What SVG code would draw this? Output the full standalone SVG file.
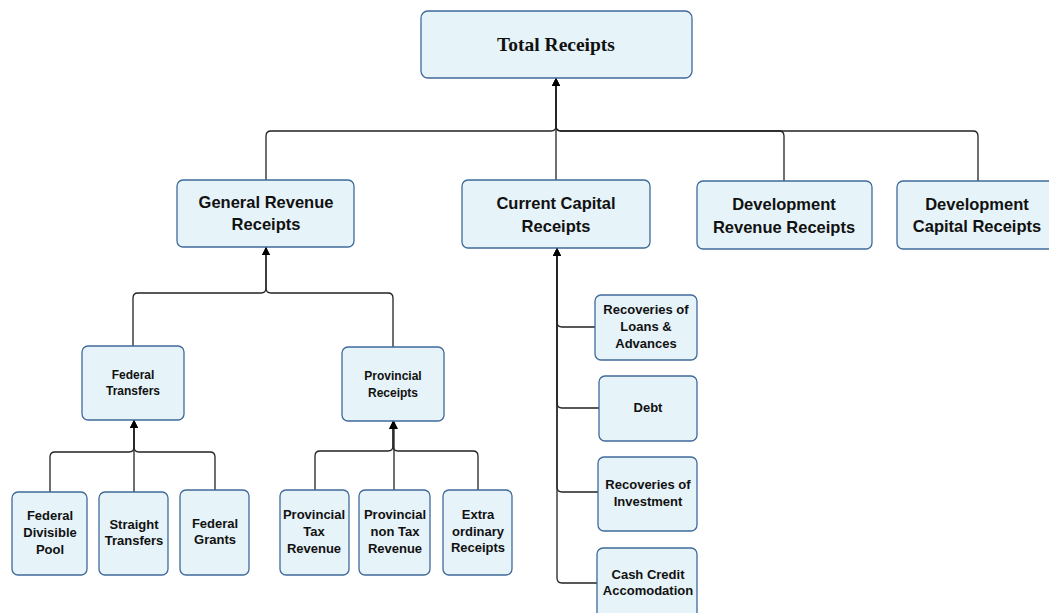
<svg xmlns="http://www.w3.org/2000/svg" width="1049" height="613" viewBox="0 0 1049 613">
<style>
.box{fill:#e6f3f8;stroke:#3f6a9a;stroke-width:1.3}
.t{font-family:"Liberation Sans",Arial,sans-serif;font-weight:bold;fill:#111;text-anchor:middle}
.l1{font-size:16.5px}
.l2{font-size:12px}
.l3{font-size:13px}
.top{font-family:"Liberation Serif","Times New Roman",serif;font-weight:bold;font-size:19.5px;fill:#111;text-anchor:middle}
.c{fill:none;stroke:#222;stroke-width:1.3}
</style>
<defs>
<marker id="arr" markerUnits="userSpaceOnUse" markerWidth="9" markerHeight="9" refX="8" refY="4" orient="auto">
<path d="M0,0 L8,4 L0,8 z" fill="#000"/>
</marker>
</defs>
<rect width="1049" height="613" fill="#fff"/>
<g id="connectors">
<path class="c" marker-end="url(#arr)" d="M266 180 V136 Q266 131 271 131 H551 Q556 131 556 126 V78"/>
<path class="c" marker-end="url(#arr)" d="M556 180 V78"/>
<path class="c" marker-end="url(#arr)" d="M784 181 V136 Q784 131 779 131 H561 Q556 131 556 126 V78"/>
<path class="c" marker-end="url(#arr)" d="M978 181 V136 Q978 131 973 131 H561 Q556 131 556 126 V78"/>
<path class="c" marker-end="url(#arr)" d="M133 346 V298 Q133 293 138 293 H261 Q266 293 266 288 V247"/>
<path class="c" marker-end="url(#arr)" d="M393 347 V298 Q393 293 388 293 H271 Q266 293 266 288 V247"/>
<path class="c" marker-end="url(#arr)" d="M50 492 V457 Q50 452 55 452 H129 Q134 452 134 447 V420"/>
<path class="c" marker-end="url(#arr)" d="M134 492 V420"/>
<path class="c" marker-end="url(#arr)" d="M215 490 V457 Q215 452 210 452 H139 Q134 452 134 447 V420"/>
<path class="c" marker-end="url(#arr)" d="M315 490 V456 Q315 451 320 451 H388 Q393 451 393 446 V421"/>
<path class="c" marker-end="url(#arr)" d="M394 490 V421"/>
<path class="c" marker-end="url(#arr)" d="M478 490 V456 Q478 451 473 451 H398 Q393 451 393 446 V421"/>
<path class="c" marker-end="url(#arr)" d="M595 327 H562 Q557 327 557 322 V248"/>
<path class="c" marker-end="url(#arr)" d="M599 408 H562 Q557 408 557 403 V248"/>
<path class="c" marker-end="url(#arr)" d="M598 492 H562 Q557 492 557 487 V248"/>
<path class="c" marker-end="url(#arr)" d="M597 583 H562 Q557 583 557 578 V248"/>
</g>
<g id="total-receipts">
<rect class="box" x="421" y="11" width="271" height="67" rx="7"/>
<text class="top" x="556" y="51">Total Receipts</text>
</g>
<g id="general-revenue-receipts">
<rect class="box" x="177" y="180" width="177" height="67" rx="6"/>
<text class="t l1" x="266" y="208">General Revenue</text>
<text class="t l1" x="266" y="230">Receipts</text>
</g>
<g id="current-capital-receipts">
<rect class="box" x="462" y="180" width="188" height="68" rx="6"/>
<text class="t l1" x="556" y="209">Current Capital</text>
<text class="t l1" x="556" y="232">Receipts</text>
</g>
<g id="development-revenue-receipts">
<rect class="box" x="697" y="181" width="175" height="68" rx="6"/>
<text class="t l1" x="784" y="210">Development</text>
<text class="t l1" x="784" y="233">Revenue Receipts</text>
</g>
<g id="development-capital-receipts">
<rect class="box" x="897" y="181" width="165" height="68" rx="6"/>
<text class="t l1" x="977" y="210">Development</text>
<text class="t l1" x="977" y="232">Capital Receipts</text>
</g>
<g id="federal-transfers">
<rect class="box" x="82" y="346" width="102" height="74" rx="6"/>
<text class="t l2" x="133" y="379">Federal</text>
<text class="t l2" x="133" y="395">Transfers</text>
</g>
<g id="provincial-receipts">
<rect class="box" x="342" y="347" width="102" height="74" rx="6"/>
<text class="t l2" x="393" y="380">Provincial</text>
<text class="t l2" x="393" y="397">Receipts</text>
</g>
<g id="federal-divisible-pool">
<rect class="box" x="12" y="492" width="75" height="83" rx="6"/>
<text class="t l3" x="50" y="520">Federal</text>
<text class="t l3" x="50" y="537">Divisible</text>
<text class="t l3" x="50" y="554">Pool</text>
</g>
<g id="straight-transfers">
<rect class="box" x="99" y="492" width="69" height="83" rx="6"/>
<text class="t l3" x="134" y="529">Straight</text>
<text class="t l3" x="134" y="545">Transfers</text>
</g>
<g id="federal-grants">
<rect class="box" x="180" y="490" width="69" height="85" rx="6"/>
<text class="t l3" x="215" y="528">Federal</text>
<text class="t l3" x="215" y="544">Grants</text>
</g>
<g id="provincial-tax-revenue">
<rect class="box" x="280" y="490" width="69" height="85" rx="6"/>
<text class="t l3" x="314" y="519">Provincial</text>
<text class="t l3" x="314" y="536">Tax</text>
<text class="t l3" x="314" y="553">Revenue</text>
</g>
<g id="provincial-non-tax-revenue">
<rect class="box" x="359" y="490" width="71" height="85" rx="6"/>
<text class="t l3" x="395" y="519">Provincial</text>
<text class="t l3" x="395" y="536">non Tax</text>
<text class="t l3" x="395" y="553">Revenue</text>
</g>
<g id="extra-ordinary-receipts">
<rect class="box" x="443" y="490" width="69" height="85" rx="6"/>
<text class="t l3" x="478" y="519">Extra</text>
<text class="t l3" x="478" y="536">ordinary</text>
<text class="t l3" x="478" y="552">Receipts</text>
</g>
<g id="recoveries-of-loans-advances">
<rect class="box" x="595" y="295" width="102" height="65" rx="6"/>
<text class="t l3" x="646" y="314">Recoveries of</text>
<text class="t l3" x="646" y="331">Loans &amp;</text>
<text class="t l3" x="646" y="348">Advances</text>
</g>
<g id="debt">
<rect class="box" x="599" y="376" width="98" height="65" rx="6"/>
<text class="t l3" x="648" y="412">Debt</text>
</g>
<g id="recoveries-of-investment">
<rect class="box" x="598" y="457" width="99" height="74" rx="6"/>
<text class="t l3" x="648" y="489">Recoveries of</text>
<text class="t l3" x="648" y="506">Investment</text>
</g>
<g id="cash-credit-accomodation">
<rect class="box" x="597" y="548" width="100" height="70" rx="6"/>
<text class="t l3" x="648" y="579">Cash Credit</text>
<text class="t l3" x="648" y="595">Accomodation</text>
</g>
</svg>
